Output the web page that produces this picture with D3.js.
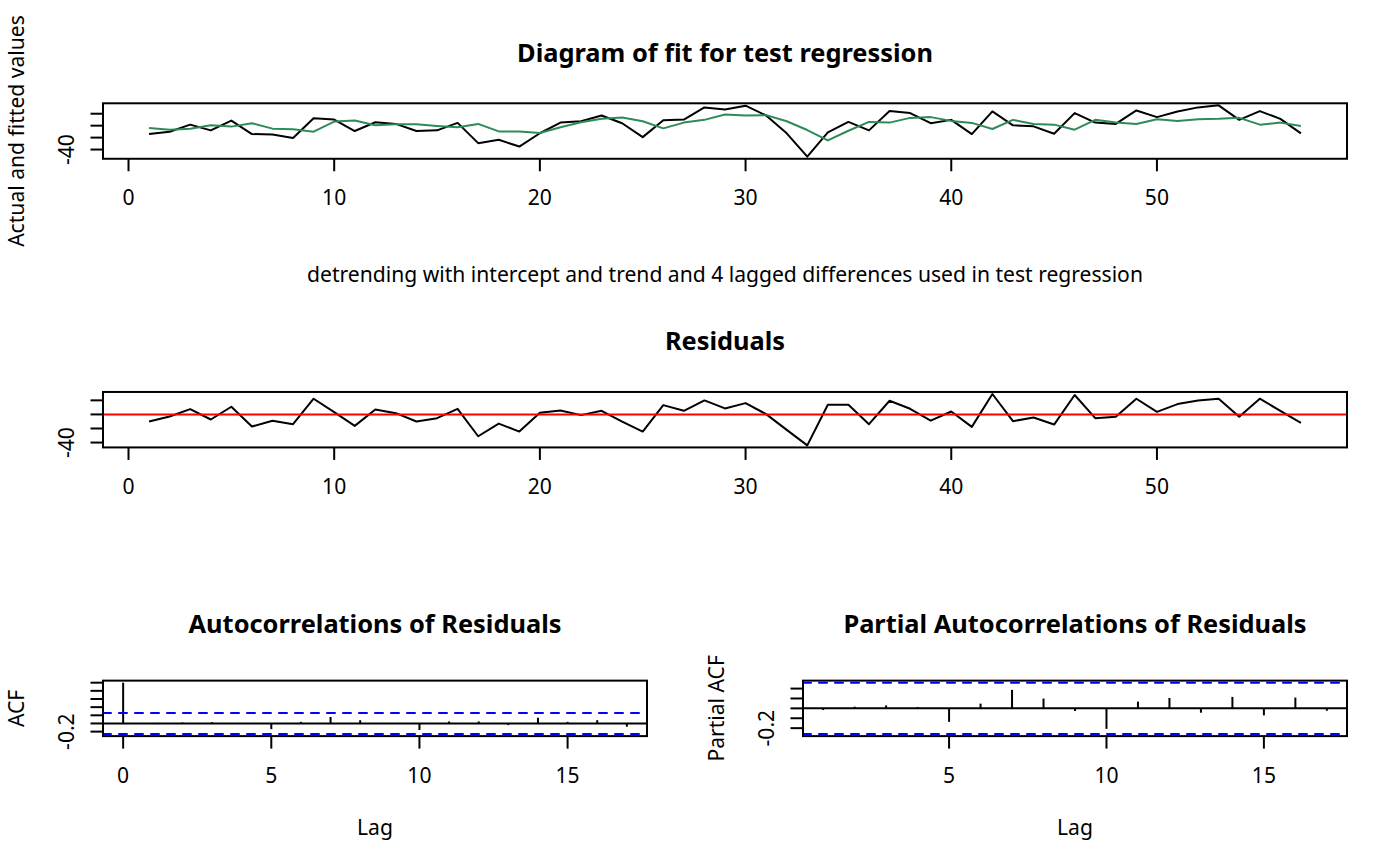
<!DOCTYPE html>
<html>
<head>
<meta charset="utf-8">
<script src="https://cdn.jsdelivr.net/npm/d3@7"></script>
<style>
  body { margin: 0; background: #fff; }
  svg { display: block; font-family: "Noto Sans", sans-serif; }
</style>
</head>
<body>
<svg id="chart" width="1400" height="866"></svg>
<script>
'use strict'
var actualValues = [-14.1, -10.1, 1.7, -7.9, 8.5, -14.1, -14.7, -20.8, 12.5, 10.2,
    -9, 5.7, 2.9, -9, -7.8, 4.6, -29.3, -23.7, -35, -12.7,
    5.1, 7.4, 17, 4, -19.2, 9.1, 10.2, 30.5, 27.1, 33.4,
    17, -12.9, -52, -11.3, 6.3, -7.9, 24.4, 21, 4.1, 9.7,
    -14.1, 23.8, 0.6, -1.1, -13.6, 21, 5.1, 2.9, 25.5, 14.3,
    23.8, 30.6, 34, 9.7, 24.4, 11.4, -12.9];
var fittedValues = [-3.9, -6.7, -5, 0.6, -1.6, 4, -5, -6.2, -10.1, 6.8,
    8.5, 0.6, 2.3, 2.3, -0.5, -2.8, 2.9, -9.6, -9.6, -12.4,
    -2.8, 5.7, 11.4, 13.6, 7.4, -4.5, 5.1, 9.7, 18.7, 17,
    17.6, 7.4, -7.3, -24.8, -8.5, 6.3, 5.1, 13, 14.3, 8,
    4.6, -5.6, 9.7, 2.9, 1.7, -6.8, 9.7, 5.1, 2.9, 10.8,
    8, 10.8, 11.4, 13.1, 1.7, 5.1, -0.5];
var residualValues = [-10.1, -3, 7.5, -7.2, 10.9, -17.2, -9.1, -13.9, 22.3, 3.2,
    -16.3, 7, 1.8, -10.1, -5.3, 8, -31, -13, -24.4, 2.3,
    5.6, -1, 5.1, -10.1, -24.4, 13.2, 5.1, 19.9, 8.5, 16.1,
    0.4, -22, -44, 13.7, 13.7, -13.9, 19.4, 8, -8.7, 4.2,
    -17.7, 29, -9.6, -4.4, -14.4, 27.6, -5.3, -3.4, 22.3, 3.7,
    14.7, 19.9, 22.3, -3.4, 22.3, 5.1, -12];
//autocorrelations, lag 0..17
var acfLags = [0, 1, 2, 3, 4, 5, 6, 7, 8, 9, 10, 11, 12, 13, 14, 15, 16, 17];
var acfValues = [1, -0.015, 0.024, 0.03, 0.01, -0.14, 0.04, 0.16, 0.08, -0.01,
    -0.16, 0.05, 0.05, -0.04, 0.14, 0.04, 0.08, -0.08];
//partial autocorrelations, lag 1..17
var pacfLags = [1, 2, 3, 4, 5, 6, 7, 8, 9, 10, 11, 12, 13, 14, 15, 16, 17];
var pacfValues = [-0.017, 0.017, 0.03, 0.014, -0.136, 0.048, 0.187, 0.099, -0.027, -0.207,
    0.068, 0.105, -0.044, 0.116, -0.071, 0.109, -0.024];
var ciLimit = 0.2596;

//ticks and their labels (R drops the labels that would overlap)
var seriesXTicks = [0, 10, 20, 30, 40, 50];
var fitYTicks = [-40, -20, 0, 20];
var fitYLabels = ["-40", "", "", ""];
var resYTicks = [-40, -20, 0, 20];
var resYLabels = ["-40", "", "", ""];
var acfXTicks = [0, 5, 10, 15];
var acfYTicks = [-0.2, 0, 0.2, 0.4, 0.6, 0.8, 1.0];
var acfYLabels = ["-0.2", "", "", "", "", "", ""];
var pacfXTicks = [5, 10, 15];
var pacfYTicks = [-0.2, -0.1, 0, 0.1, 0.2];
var pacfYLabels = ["-0.2", "", "", "", ""];

var fitTitle = "Diagram of fit for test regression";
var fitSub = "detrending with intercept and trend and 4 lagged differences used in test regression";
var fitYTitle = "Actual and fitted values";
var resTitle = "Residuals";
var acfTitle = "Autocorrelations of Residuals";
var pacfTitle = "Partial Autocorrelations of Residuals";

var W = 1400, H = 866;
var rowH = H / 3;
var marTop = 103.3, marBottom = 129.9, marLeft = 103, marRight = 53;
var fontSize = 21.1, titleSize = 25.4;
var tickLen = 12.5;

var svg = d3.select("#chart");
var obsIndex = actualValues.map(function (d, i) { return i + 1; });

//R's default 4% axis extension
function rRange(lo, hi) {
    var pad = (hi - lo) * 0.04;
    return [lo - pad, hi + pad];
}

function makeBox(row, colLeft, colWidth) {
    return {
        x0: colLeft + marLeft,
        x1: colLeft + colWidth - marRight,
        y0: row * rowH + marTop,
        y1: (row + 1) * rowH - marBottom
    };
}

function makePanel(box, xDom, yDom) {
    return {
        box: box,
        x: d3.scaleLinear().domain(xDom).range([box.x0, box.x1]),
        y: d3.scaleLinear().domain(yDom).range([box.y1, box.y0]),
        g: svg.append("g")
    };
}

function drawFrame(p, xTicks, yTicks, yLabels) {
    var b = p.box;
    var g = p.g;
    g.selectAll(".xt").data(xTicks).enter().append("line")
        .attr("x1", function (d) { return p.x(d); })
        .attr("x2", function (d) { return p.x(d); })
        .attr("y1", b.y1).attr("y2", b.y1 + tickLen)
        .attr("stroke", "#000").attr("stroke-width", 2);
    g.selectAll(".xl").data(xTicks).enter().append("text")
        .attr("x", function (d) { return p.x(d); })
        .attr("y", b.y1 + 38)
        .attr("text-anchor", "middle").attr("dominant-baseline", "central")
        .attr("font-size", fontSize)
        .text(function (d) { return d; });
    g.selectAll(".yt").data(yTicks).enter().append("line")
        .attr("x1", b.x0).attr("x2", b.x0 - tickLen)
        .attr("y1", function (d) { return p.y(d); })
        .attr("y2", function (d) { return p.y(d); })
        .attr("stroke", "#000").attr("stroke-width", 2);
    g.selectAll(".yl").data(yTicks).enter().append("text")
        .attr("transform", function (d) {
            return "translate(" + (b.x0 - 38) + "," + p.y(d) + ") rotate(-90)";
        })
        .attr("text-anchor", "middle").attr("dominant-baseline", "central")
        .attr("font-size", fontSize)
        .text(function (d, i) { return yLabels[i]; });
    g.append("rect")
        .attr("x", b.x0).attr("y", b.y0)
        .attr("width", b.x1 - b.x0).attr("height", b.y1 - b.y0)
        .attr("fill", "none").attr("stroke", "#000").attr("stroke-width", 2);
}

function addText(str, x, y, size, bold, rotate) {
    svg.append("text")
        .attr("transform", "translate(" + x + "," + y + ")" + (rotate ? " rotate(-90)" : ""))
        .attr("text-anchor", "middle").attr("dominant-baseline", "central")
        .attr("font-size", size)
        .attr("font-weight", bold ? "bold" : "normal")
        .text(str);
}

function drawSeries(p, xs, ys, color) {
    var line = d3.line()
        .x(function (d) { return p.x(d[0]); })
        .y(function (d) { return p.y(d[1]); });
    p.g.append("path")
        .attr("d", line(d3.zip(xs, ys)))
        .attr("fill", "none").attr("stroke", color)
        .attr("stroke-width", 2).attr("stroke-linejoin", "round");
}

function drawHLine(p, v, color, dashed) {
    p.g.append("line")
        .attr("x1", p.box.x0).attr("x2", p.box.x1)
        .attr("y1", p.y(v)).attr("y2", p.y(v))
        .attr("stroke", color).attr("stroke-width", 2)
        .attr("stroke-dasharray", dashed ? "8,8" : null)
        .attr("stroke-linecap", dashed ? "round" : "butt");
}

function drawSpikes(p, lags, vals) {
    p.g.selectAll(".spike").data(d3.zip(lags, vals)).enter().append("line")
        .attr("x1", function (d) { return p.x(d[0]); })
        .attr("x2", function (d) { return p.x(d[0]); })
        .attr("y1", p.y(0))
        .attr("y2", function (d) { return p.y(d[1]); })
        .attr("stroke", "#000").attr("stroke-width", 2);
}

//1. fit diagram
var xSeries = rRange(1, obsIndex.length);
var fitP = makePanel(makeBox(0, 0, W), xSeries, rRange(d3.min(actualValues), d3.max(actualValues)));
drawSeries(fitP, obsIndex, actualValues, "#000");
drawSeries(fitP, obsIndex, fittedValues, "#2E8B57");
drawFrame(fitP, seriesXTicks, fitYTicks, fitYLabels);
addText(fitTitle, (fitP.box.x0 + fitP.box.x1) / 2, fitP.box.y0 - 51.5, titleSize, true);
addText(fitSub, (fitP.box.x0 + fitP.box.x1) / 2, fitP.box.y1 + 114.5, fontSize, false);
addText(fitYTitle, fitP.box.x0 - 88, (fitP.box.y0 + fitP.box.y1) / 2, fontSize, false, true);

//2. residuals
var resP = makePanel(makeBox(1, 0, W), xSeries, rRange(d3.min(residualValues), d3.max(residualValues)));
drawSeries(resP, obsIndex, residualValues, "#000");
drawHLine(resP, 0, "#FF0000", false);
drawFrame(resP, seriesXTicks, resYTicks, resYLabels);
addText(resTitle, (resP.box.x0 + resP.box.x1) / 2, resP.box.y0 - 51.5, titleSize, true);

//3. acf
var acfP = makePanel(makeBox(2, 0, W / 2), rRange(0, d3.max(acfLags)),
    rRange(Math.min(-ciLimit, d3.min(acfValues)), Math.max(ciLimit, d3.max(acfValues))));
drawSpikes(acfP, acfLags, acfValues);
drawHLine(acfP, 0, "#000", false);
drawHLine(acfP, ciLimit, "#0000FF", true);
drawHLine(acfP, -ciLimit, "#0000FF", true);
drawFrame(acfP, acfXTicks, acfYTicks, acfYLabels);
addText(acfTitle, (acfP.box.x0 + acfP.box.x1) / 2, acfP.box.y0 - 58, titleSize, true);
addText("Lag", (acfP.box.x0 + acfP.box.x1) / 2, acfP.box.y1 + 90, fontSize, false);
addText("ACF", acfP.box.x0 - 88, (acfP.box.y0 + acfP.box.y1) / 2, fontSize, false, true);

//4. pacf
var pacfP = makePanel(makeBox(2, W / 2, W / 2), rRange(1, d3.max(pacfLags)),
    rRange(Math.min(-ciLimit, d3.min(pacfValues)), Math.max(ciLimit, d3.max(pacfValues))));
drawSpikes(pacfP, pacfLags, pacfValues);
drawHLine(pacfP, 0, "#000", false);
drawHLine(pacfP, ciLimit, "#0000FF", true);
drawHLine(pacfP, -ciLimit, "#0000FF", true);
drawFrame(pacfP, pacfXTicks, pacfYTicks, pacfYLabels);
addText(pacfTitle, (pacfP.box.x0 + pacfP.box.x1) / 2, pacfP.box.y0 - 58, titleSize, true);
addText("Lag", (pacfP.box.x0 + pacfP.box.x1) / 2, pacfP.box.y1 + 90, fontSize, false);
addText("Partial ACF", pacfP.box.x0 - 88, (pacfP.box.y0 + pacfP.box.y1) / 2, fontSize, false, true);
</script>
</body>
</html>
